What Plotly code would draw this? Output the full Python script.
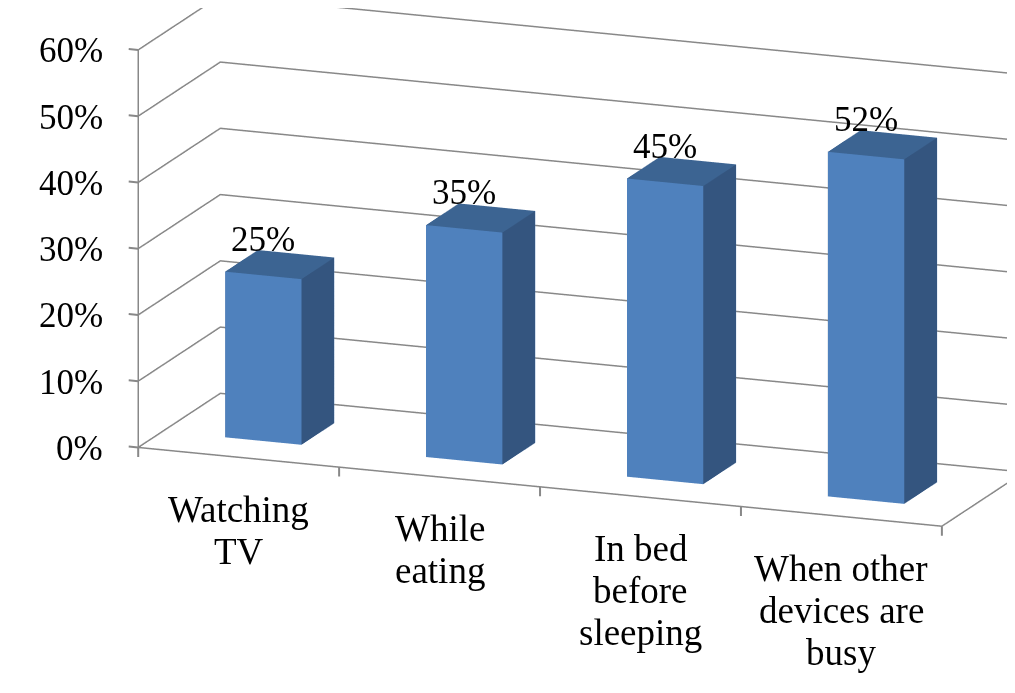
import plotly.graph_objects as go

categories = ["Watching<br>TV", "While<br>eating", "In bed<br>before<br>sleeping",
              "When other<br>devices are<br>busy"]
values = [0.25, 0.35, 0.45, 0.52]
value_labels = ["25%", "35%", "45%", "52%"]
z_tick_vals = [0, 0.1, 0.2, 0.3, 0.4, 0.5, 0.6]
z_tick_text = ["0%", "10%", "20%", "30%", "40%", "50%", "60%"]

FRONT = "#4F81BD"
SIDE = "#34557F"
TOP = "#3C6492"
GRID = "#888888"
FONT = "Liberation Serif"

BAR_W = 0.38
DEPTH = 0.9
BAR_D = 0.36
X_MIN, X_MAX = 0.5, len(values) + 0.5
Z_MAX = z_tick_vals[-1]
PAD = 0.002

fig = go.Figure()

# gridlines on left and back walls, drawn as thick 3D lines
for tv in z_tick_vals:
    fig.add_trace(go.Scatter3d(
        x=[X_MIN, X_MIN, X_MAX], y=[0, DEPTH, DEPTH], z=[tv, tv, tv],
        mode="lines", line=dict(color=GRID, width=3), hoverinfo="skip", showlegend=False))
# axis edges: front floor edge, right floor edge, front-left vertical
fig.add_trace(go.Scatter3d(
    x=[X_MIN, X_MAX, X_MAX], y=[0, 0, DEPTH], z=[0, 0, 0],
    mode="lines", line=dict(color=GRID, width=3), hoverinfo="skip", showlegend=False))
fig.add_trace(go.Scatter3d(
    x=[X_MIN, X_MIN], y=[0, 0], z=[0, Z_MAX],
    mode="lines", line=dict(color=GRID, width=3), hoverinfo="skip", showlegend=False))

# bars
xs, ys, zs, ii, jj, kk, fc = [], [], [], [], [], [], []
for idx, v in enumerate(values):
    c = idx + 1
    x0, x1 = c - BAR_W / 2, c + BAR_W / 2
    y0, y1 = DEPTH / 2 - BAR_D / 2, DEPTH / 2 + BAR_D / 2
    z0, z1 = 0, v
    base = len(xs)
    corners = [(x0, y0, z0), (x1, y0, z0), (x1, y1, z0), (x0, y1, z0),
               (x0, y0, z1), (x1, y0, z1), (x1, y1, z1), (x0, y1, z1)]
    for p in corners:
        xs.append(p[0]); ys.append(p[1]); zs.append(p[2])
    tris = [((0, 1, 5), FRONT), ((0, 5, 4), FRONT),
            ((1, 2, 6), SIDE), ((1, 6, 5), SIDE),
            ((4, 5, 6), TOP), ((4, 6, 7), TOP),
            ((0, 3, 7), SIDE), ((0, 7, 4), SIDE),
            ((3, 2, 6), FRONT), ((3, 6, 7), FRONT),
            ((0, 1, 2), FRONT), ((0, 2, 3), FRONT)]
    for (a, b, d), col in tris:
        ii.append(base + a); jj.append(base + b); kk.append(base + d); fc.append(col)

fig.add_trace(go.Mesh3d(
    x=xs, y=ys, z=zs, i=ii, j=jj, k=kk, facecolor=fc, flatshading=True,
    lighting=dict(ambient=1, diffuse=0, specular=0, roughness=1, fresnel=0),
    hoverinfo="skip", showscale=False,
))

LINE_GAP = 42
annotations = []
for idx, (cat, v, lab) in enumerate(zip(categories, values, value_labels)):
    for k, line in enumerate(cat.split("<br>")):
        annotations.append(dict(x=idx + 1, y=0, z=0, text=line, showarrow=False,
                                yanchor="middle", yshift=-52 - k * LINE_GAP,
                                font=dict(family=FONT, size=37, color="black")))
    y_front = DEPTH / 2 - BAR_D / 2
    annotations.append(dict(x=idx + 1, y=y_front, z=v, text=lab, showarrow=False,
                            yanchor="middle", yshift=36,
                            font=dict(family=FONT, size=35, color="black")))
# category boundary tick marks (downwards)
for k in range(len(values) + 1):
    annotations.append(dict(x=X_MIN + k, y=0, z=0, text="", showarrow=True,
                            arrowhead=0, arrowwidth=2, arrowcolor=GRID,
                            ax=0, ay=11, standoff=0, startstandoff=0))
# value axis ticks and labels
for tv, tt in zip(z_tick_vals, z_tick_text):
    annotations.append(dict(x=X_MIN, y=0, z=tv, text="", showarrow=True,
                            arrowhead=0, arrowwidth=2, arrowcolor=GRID,
                            ax=-11, ay=-1, standoff=0, startstandoff=0))
    annotations.append(dict(x=X_MIN, y=0, z=tv, text=tt, showarrow=False,
                            xanchor="right", yanchor="middle", xshift=-33, yshift=-1,
                            font=dict(family=FONT, size=35, color="black")))

hidden = dict(showbackground=False, showspikes=False, title=dict(text=""),
              zeroline=False, showgrid=False, showline=False, ticks="",
              showticklabels=False)

cx, cy, cz = -0.152, -0.132, -0.261
D = 2.0
dx, dy, dz = 0.348, -0.902, 0.254

fig.update_layout(
    width=1015, height=693,
    margin=dict(l=0, r=0, t=0, b=0),
    paper_bgcolor="white",
    showlegend=False,
    scene=dict(
        domain=dict(x=[0, 1], y=[0, 1]),
        xaxis=dict(range=[X_MIN - PAD * 4, X_MAX + PAD * 4], **hidden),
        yaxis=dict(range=[-PAD * DEPTH, DEPTH * (1 + PAD)], **hidden),
        zaxis=dict(range=[-PAD * Z_MAX, Z_MAX * (1 + PAD)], **hidden),
        aspectmode="manual",
        aspectratio=dict(x=2.496, y=0.661, z=1.191),
        camera=dict(eye=dict(x=cx + D * dx, y=cy + D * dy, z=cz + D * dz),
                    center=dict(x=cx, y=cy, z=cz),
                    up=dict(x=0, y=0, z=1), projection=dict(type="orthographic")),
        dragmode=False,
        annotations=annotations,
    ),
)

fig.write_html("out.html", config=dict(displayModeBar=False))
